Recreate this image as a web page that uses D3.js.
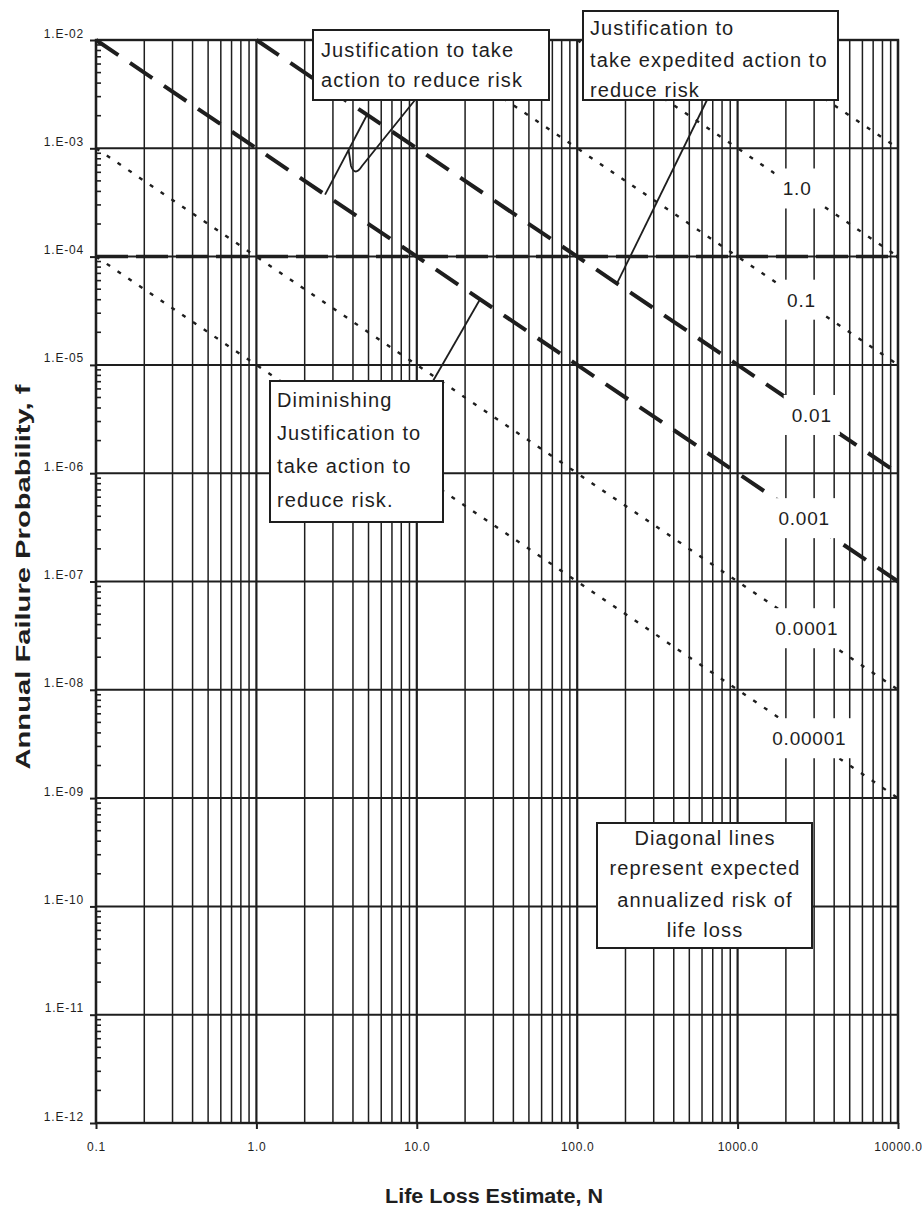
<!DOCTYPE html>
<html>
<head>
<meta charset="utf-8">
<script src="https://cdn.jsdelivr.net/npm/d3@7"></script>
<style>
  body { margin: 0; background: #fff; }
  text { font-family: "Liberation Sans", Arial, sans-serif; fill: #1e1e1e; }
</style>
</head>
<body>
<svg id="chart" width="922" height="1211"></svg>
<script>
// axis ticks
var xTicks = [0.1, 1, 10, 100, 1000, 10000];
var xTickLabels = ["0.1", "1.0", "10.0", "100.0", "1000.0", "10000.0"];
var yTicks = [1e-2, 1e-3, 1e-4, 1e-5, 1e-6, 1e-7, 1e-8, 1e-9, 1e-10, 1e-11, 1e-12];
var yTickLabels = ["1.E-02", "1.E-03", "1.E-04", "1.E-05", "1.E-06", "1.E-07",
  "1.E-08", "1.E-09", "1.E-10", "1.E-11", "1.E-12"];

// diagonal lines: expected annualized life loss f*N
var riskValues = [10, 1, 0.1, 0.01, 0.001, 0.0001, 0.00001];
var riskKind = ["dot", "dot", "dot", "dash", "dash", "dot", "dot"];
var riskLabels = ["", "1.0", "0.1", "0.01", "0.001", "0.0001", "0.00001"];
var riskLabelN = [null, 2350, 2500, 2900, 2600, 2700, 2800]; // N where label sits on its line

// horizontal guideline
var guideF = 1e-4;

var svg = d3.select("#chart");
var pL = 96, pR = 898, pT = 40, pB = 1123;

var x = d3.scaleLog().domain([0.1, 10000]).range([pL, pR]);
var y = d3.scaleLog().domain([1e-12, 1e-2]).range([pB, pT]);

function isDecade(v) {
  var l = Math.log10(v);
  return Math.abs(l - Math.round(l)) < 1e-6;
}

// vertical grid
svg.append("g")
  .selectAll("line")
  .data(x.ticks())
  .join("line")
  .attr("x1", d => x(d)).attr("x2", d => x(d))
  .attr("y1", pT).attr("y2", pB)
  .attr("stroke", "#1e1e1e")
  .attr("stroke-width", d => isDecade(d) ? 2.2 : 1.5);

// horizontal grid
svg.append("g")
  .selectAll("line")
  .data(yTicks)
  .join("line")
  .attr("x1", pL).attr("x2", pR)
  .attr("y1", d => y(d)).attr("y2", d => y(d))
  .attr("stroke", "#1e1e1e")
  .attr("stroke-width", 2);

// minor ticks inside the left axis
svg.append("g")
  .selectAll("line")
  .data(y.ticks(20).filter(d => !isDecade(d)))
  .join("line")
  .attr("x1", pL).attr("x2", pL + 5)
  .attr("y1", d => y(d)).attr("y2", d => y(d))
  .attr("stroke", "#1e1e1e")
  .attr("stroke-width", 1.6);

// diagonal risk lines
svg.append("g")
  .selectAll("line")
  .data(riskValues)
  .join("line")
  .attr("x1", d => x(Math.max(0.1, d / 1e-2)))
  .attr("y1", d => y(d / Math.max(0.1, d / 1e-2)))
  .attr("x2", x(10000))
  .attr("y2", d => y(d / 10000))
  .attr("stroke", "#1e1e1e")
  .attr("stroke-width", (d, i) => riskKind[i] == "dash" ? 4 : 2.4)
  .attr("stroke-dasharray", (d, i) => riskKind[i] == "dash" ? "27,14" : "4,9");

// heavy dashed line at f = 1e-4
svg.append("line")
  .attr("x1", pL).attr("x2", pR)
  .attr("y1", y(guideF)).attr("y2", y(guideF))
  .attr("stroke", "#1e1e1e")
  .attr("stroke-width", 3.5)
  .attr("stroke-dasharray", "32,8");

// outer frame
svg.append("rect")
  .attr("x", pL).attr("y", pT)
  .attr("width", pR - pL).attr("height", pB - pT)
  .attr("fill", "none").attr("stroke", "#1e1e1e").attr("stroke-width", 2.4);

// axes
var xAxis = d3.axisBottom(x).tickValues(xTicks)
  .tickFormat((d, i) => xTickLabels[i]).tickSizeInner(6).tickSizeOuter(0).tickPadding(13);
var gx = svg.append("g").attr("transform", "translate(0," + pB + ")").call(xAxis);
gx.select(".domain").remove();
gx.selectAll("line").attr("stroke", "#1e1e1e").attr("stroke-width", 2);
gx.selectAll("text").style("font-size", "12px").style("letter-spacing", "0.7px")
  .style("font-family", "'Liberation Sans', Arial, sans-serif").attr("fill", "#1e1e1e");

var yAxis = d3.axisLeft(y).tickValues(yTicks)
  .tickFormat((d, i) => yTickLabels[i]).tickSizeInner(6).tickSizeOuter(0).tickPadding(6);
var gy = svg.append("g").attr("transform", "translate(" + pL + ",0)").call(yAxis);
gy.select(".domain").remove();
gy.selectAll("line").attr("stroke", "#1e1e1e").attr("stroke-width", 2);
gy.selectAll("text").style("font-size", "12px").style("letter-spacing", "0.8px")
  .style("font-family", "'Liberation Sans', Arial, sans-serif")
  .attr("dy", "-0.25em").attr("fill", "#1e1e1e");

// labels on the diagonals
var lab = svg.append("g").selectAll("g")
  .data(riskValues.map((v, i) => ({ v: v, t: riskLabels[i], n: riskLabelN[i] })).filter(d => d.t))
  .join("g")
  .attr("transform", d => "translate(" + x(d.n) + "," + y(d.v / d.n) + ")");
lab.append("text")
  .attr("text-anchor", "middle")
  .attr("dy", "0.36em")
  .style("font-size", "19px")
  .style("letter-spacing", "0.8px")
  .text(d => d.t);
lab.insert("rect", "text")
  .each(function () {
    var bb = this.parentNode.querySelector("text").getBBox();
    d3.select(this)
      .attr("x", bb.x - 8).attr("y", -20)
      .attr("width", bb.width + 16).attr("height", 40)
      .attr("fill", "#fff");
  });

// leader lines
var leaders = svg.append("g").attr("fill", "none").attr("stroke", "#1e1e1e").attr("stroke-width", 1.8);
// bracket between the 0.001 and 0.01 lines
var b0 = [x(2.68), y(0.001 / 2.68)], b1 = [x(4.9), y(0.01 / 4.9)];
leaders.append("line").attr("x1", b0[0]).attr("y1", b0[1]).attr("x2", b1[0]).attr("y2", b1[1]);
leaders.append("path").attr("d", "M415,100 L362,166 Q355,177 351,166 L" +
  (b0[0] + (b1[0] - b0[0]) * (b0[1] - 150) / (b0[1] - b1[1])) + ",150");
leaders.append("line").attr("x1", 707).attr("y1", 100).attr("x2", x(177)).attr("y2", y(0.01 / 177));
leaders.append("line").attr("x1", 433).attr("y1", 381).attr("x2", x(24.8)).attr("y2", y(0.001 / 24.8));

// annotation boxes
var notes = [
  { x: 313, y: 30, w: 236, h: 70, tx: 321, anchor: "start", base: [57, 87],
    lines: ["Justification to take", "action to reduce risk"] },
  { x: 583, y: 11, w: 255, h: 89, tx: 590, anchor: "start", base: [35, 67, 97],
    lines: ["Justification to", "take expedited action to", "reduce risk"] },
  { x: 270, y: 381, w: 173, h: 141, tx: 277, anchor: "start", base: [407, 440, 473, 507],
    lines: ["Diminishing", "Justification to", "take action to", "reduce risk."] },
  { x: 597, y: 823, w: 215, h: 125, tx: 705, anchor: "middle", base: [845, 875, 907, 937],
    lines: ["Diagonal lines", "represent expected", "annualized risk of", "life loss"] }
];
notes.forEach(function (n) {
  svg.append("rect")
    .attr("x", n.x).attr("y", n.y).attr("width", n.w).attr("height", n.h)
    .attr("fill", "#fff").attr("stroke", "#1e1e1e").attr("stroke-width", 2);
  svg.append("g").selectAll("text")
    .data(n.lines)
    .join("text")
    .attr("x", n.tx)
    .attr("y", (d, i) => n.base[i])
    .attr("text-anchor", n.anchor)
    .style("font-size", "20px")
    .style("letter-spacing", "1.1px")
    .text(d => d);
});

// axis titles
svg.append("text")
  .attr("x", 494).attr("y", 1203)
  .attr("text-anchor", "middle")
  .attr("textLength", 218).attr("lengthAdjust", "spacingAndGlyphs")
  .style("font-size", "20px").style("font-weight", "bold")
  .text("Life Loss Estimate, N");

svg.append("text")
  .attr("transform", "translate(30,577) rotate(-90)")
  .attr("text-anchor", "middle")
  .attr("textLength", 385).attr("lengthAdjust", "spacingAndGlyphs")
  .style("font-size", "20px").style("font-weight", "bold")
  .text("Annual Failure Probability, f");
</script>
</body>
</html>
